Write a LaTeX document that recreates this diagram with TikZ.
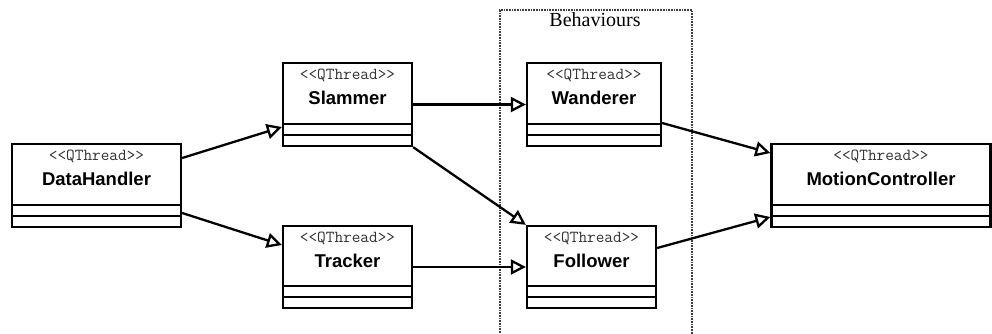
\documentclass[tikz,border=0pt]{standalone}
\usepackage{fontspec}
\setmainfont{Liberation Serif}
\newfontfamily\clsfont{Liberation Sans}
\usetikzlibrary{arrows.meta}
\tikzset{
  umlbox/.style={draw, line width=2.3pt, rectangle, inner sep=0pt, fill=white},
  divider/.style={line width=2.3pt},
  stereo/.style={anchor=base, inner sep=0pt, font=\ttfamily\fontsize{16.8}{18}\selectfont, text=black!80},
  clsname/.style={anchor=base, inner sep=0pt, font=\clsfont\bfseries\fontsize{18.5}{20}\selectfont},
  conn/.style={line width=2.3pt, -{Triangle[open, length=15pt, width=15pt, line width=2.3pt]}},
  frame/.style={draw=black!75, line width=1.7pt, densely dotted, rectangle, inner sep=0pt},
}
\begin{document}
\begin{tikzpicture}[x=1pt, y=-1pt]
\useasboundingbox (0,0) rectangle (992,333);
% Behaviours frame
\node[frame, anchor=north west, minimum width=192pt, minimum height=345pt] (beh) at (499,9) {};
\node[anchor=base, inner sep=0pt, font=\fontsize{20}{22}\selectfont] (behl) at (595,26) {Behaviours};
% classes
\node[umlbox, minimum width=169pt, minimum height=83pt] (dh) at (96.5,185.5) {};
\node[umlbox, minimum width=129pt, minimum height=83pt] (sl) at (347.5,104.5) {};
\node[umlbox, minimum width=129pt, minimum height=82pt] (tr) at (347.5,267) {};
\node[umlbox, minimum width=134pt, minimum height=83pt] (wa) at (594,104.5) {};
\node[umlbox, minimum width=129pt, minimum height=82pt] (fo) at (591.5,267) {};
\node[umlbox, minimum width=219pt, minimum height=83pt] (mc) at (881,185.5) {};
\foreach \n/\t in {dh/DataHandler, sl/Slammer, tr/Tracker, wa/Wanderer, fo/Follower, mc/MotionController}{
  \draw[divider] ([yshift=23pt]\n.south west) -- ([yshift=23pt]\n.south east);
  \draw[divider] ([yshift=12pt]\n.south west) -- ([yshift=12pt]\n.south east);
  \node[stereo] (\n-s) at ([yshift=-18pt]\n.north) {<<QThread>>};
  \node[clsname] (\n-n) at ([yshift=-42.5pt]\n.north) {\t};
}
% connectors
\draw[conn] ([yshift=27.5pt]dh.east) -- ([yshift=-22.5pt]sl.west);
\draw[conn] ([yshift=-27.5pt]dh.east) -- ([yshift=22pt]tr.west);
\draw[conn] (sl.east) -- (wa.west);
\draw[conn] (sl.south east) -- (fo.north west);
\draw[conn] (tr.east) -- (fo.west);
\draw[conn] ([yshift=-18.5pt]wa.east) -- ([yshift=32.5pt]mc.west);
\draw[conn] ([yshift=19pt]fo.east) -- ([yshift=-31.5pt]mc.west);
\end{tikzpicture}
\end{document}
